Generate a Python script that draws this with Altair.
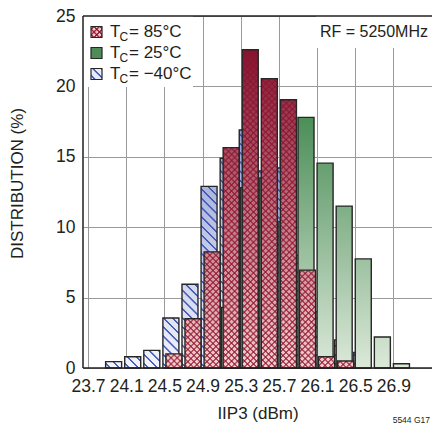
import math
import altair as alt

# ---------------- data ----------------
bin_centers = [24.0, 24.2, 24.4, 24.6, 24.8, 25.0, 25.2, 25.4, 25.6, 25.8,
               26.0, 26.2, 26.4, 26.6, 26.8, 27.0]
dist_85 = [None, None, None, 1.0, 3.5, 8.25, 15.65, 22.6, 20.55, 19.05,
           6.95, 0.8, 0.5, None, None, None]
dist_25 = [None, None, None, None, None, None, 4.3, 12.8, 13.5, 10.4,
           17.8, 14.55, 11.5, 7.75, 2.2, 0.3]
dist_m40 = [0.45, 0.8, 1.25, 3.55, 5.95, 12.9, 14.9, 16.9, 14.0, 14.2,
            8.0, 4.0, 2.0, 1.1, None, None]
x_ticks = [23.7, 24.1, 24.5, 24.9, 25.3, 25.7, 26.1, 26.5, 26.9]
y_ticks = [0, 5, 10, 15, 20, 25]
legend_labels = ["= 85°C", "= 25°C", "= \u221240°C"]
note_text = "RF = 5250MHz"
fig_id = "5544 G17"

# ---------------- layout / style ----------------
W, H = 349, 352
X_DOM = [23.7, 27.252]
Y_MAX = 25
BAR_W = 16
FONT = "Liberation Sans, Arial, sans-serif"
INK = "#231f20"
EDGE = "#262626"

RED_TOP, RED_BOT = "#740020", "#f4d0d0"
GRN_TOP, GRN_BOT = "#126924", "#dce9d9"
BLU_TOP, BLU_BOT = "#6b78c0", "#f4f4fb"
RED_LINE = (145, 18, 45)
BLU_LINE = (50, 80, 180)


def hex2rgb(h):
    h = h.lstrip("#")
    return tuple(int(h[i:i + 2], 16) for i in (0, 2, 4))


def mix(top, bot, f):
    a, b = hex2rgb(top), hex2rgb(bot)
    return "#%02x%02x%02x" % tuple(round(b[i] + (a[i] - b[i]) * f) for i in range(3))


def vgrad(v, top, bot):
    return {"gradient": "linear", "x1": 0, "y1": 0, "x2": 0, "y2": 1,
            "stops": [{"offset": 0, "color": mix(top, bot, v / Y_MAX)},
                      {"offset": 1, "color": bot}]}


def stripes(w, h, spacing, thick, rgb, alpha, direction):
    """Hatch lines at 45 degrees as a striped linear gradient (bbox units)."""
    L = (w + h) / math.sqrt(2)
    s = (w + h) / (w * w + h * h)
    if direction == "back":      # "\" lines
        x1, y1, x2, y2 = 0, 1, w * s, 1 - h * s
    else:                        # "/" lines
        x1, y1, x2, y2 = 0, 0, w * s, h * s
    on = "rgba(%d,%d,%d,%.2f)" % (rgb[0], rgb[1], rgb[2], alpha)
    off = "rgba(%d,%d,%d,0)" % rgb
    stops = [{"offset": 0, "color": off}]
    half = thick / 2 / L
    soft = 0.5 / L
    p = spacing / 2
    while p < L:
        t = p / L
        for o, c in ((t - half - soft, off), (t - half, on),
                     (t + half, on), (t + half + soft, off)):
            stops.append({"offset": min(max(o, 0), 1), "color": c})
        p += spacing
    stops.append({"offset": 1, "color": off})
    return {"gradient": "linear", "x1": x1, "y1": y1, "x2": x2, "y2": y2,
            "stops": stops}


RED_HATCH = [(4.3, 0.9, RED_LINE, 0.7, "back"), (4.3, 0.9, RED_LINE, 0.7, "fwd")]
BLU_HATCH = [(6.5, 1.0, BLU_LINE, 0.9, "back")]


def bar_records(values, top, bot, hatches):
    recs = []
    for c, v in zip(bin_centers, values):
        if v is None:
            continue
        h = v / Y_MAX * H
        r = {"bin": c, "pct": v, "base": vgrad(v, top, bot)}
        for i, hs in enumerate(hatches):
            r["h%d" % i] = stripes(BAR_W, h, *hs)
        recs.append(r)
    return recs


xenc = alt.X("bin:Q",
             scale=alt.Scale(domain=X_DOM, nice=False, zero=False),
             axis=alt.Axis(values=x_ticks, format=".1f", title="IIP3 (dBm)",
                           grid=True, domain=False, ticks=False,
                           labelFont=FONT, labelFontSize=17.5, labelColor=INK,
                           labelPadding=9, labelFlush=False,
                           titleFont=FONT, titleFontSize=17, titleColor=INK,
                           titleFontWeight="normal", titleY=45,
                           titleBaseline="middle",
                           gridColor="#9a9a9a", gridWidth=1))
yenc = alt.Y("pct:Q",
             scale=alt.Scale(domain=[0, Y_MAX], nice=False, zero=True),
             axis=alt.Axis(values=y_ticks, title="DISTRIBUTION (%)",
                           grid=True, domain=False, ticks=False,
                           labelFont=FONT, labelFontSize=17.5, labelColor=INK,
                           labelPadding=8, labelFlush=False,
                           titleFont=FONT, titleFontSize=17, titleColor=INK,
                           titleFontWeight="normal", titleX=-66, titleY=167,
                           titleAngle=270, titleAlign="center",
                           titleBaseline="middle",
                           gridColor="#9a9a9a", gridWidth=1))


def bar_layer(recs, field, x_off, stroke=False):
    kw = dict(width=BAR_W, xOffset=x_off, orient="vertical")
    if stroke:
        kw.update(stroke=EDGE, strokeWidth=1.4)
    else:
        kw.update(strokeWidth=0)
    return alt.Chart(alt.Data(values=recs)).mark_bar(**kw).encode(
        x=xenc, y=yenc,
        fill=alt.Fill(field + ":N", scale=None, legend=None))


blue = bar_records(dist_m40, BLU_TOP, BLU_BOT, BLU_HATCH)
green = bar_records(dist_25, GRN_TOP, GRN_BOT, [])
red = bar_records(dist_85, RED_TOP, RED_BOT, RED_HATCH)

layers = [
    bar_layer(blue, "base", -3),
    bar_layer(blue, "h0", -3, stroke=True),
    bar_layer(green, "base", -1.5, stroke=True),
    bar_layer(red, "base", 0),
    bar_layer(red, "h0", 0),
    bar_layer(red, "h1", 0, stroke=True),
]


def rect(x, x2, y, y2, fill, stroke=None):
    kw = dict(stroke=stroke, strokeWidth=1.2) if stroke else dict(strokeWidth=0)
    return alt.Chart(alt.Data(values=[{}])).mark_rect(**kw).encode(
        x=alt.value(x), x2=alt.value(x2), y=alt.value(y), y2=alt.value(y2),
        fill=alt.value(fill))


def txt(s, x, y, size=17, align="left", dy=0):
    return alt.Chart(alt.Data(values=[{"t": s}])).mark_text(
        align=align, baseline="middle", fontSize=size, font=FONT,
        color=INK, dy=dy).encode(x=alt.value(x), y=alt.value(y), text="t:N")


def rule(x, x2, y, y2):
    return alt.Chart(alt.Data(values=[{}])).mark_rule(
        color=INK, strokeWidth=1.5).encode(
        x=alt.value(x), x2=alt.value(x2), y=alt.value(y), y2=alt.value(y2))


# white boxes behind legend and note
layers.append(rect(0, 110, 0, 71, "white"))
layers.append(rect(233, W, 0, 32, "white"))

# legend swatches
SW = 11
rows = [16, 37, 58]
sx = 8
r0 = rows[0]
layers.append(rect(sx, sx + SW, r0 - SW / 2, r0 + SW / 2, "#f2c6c6"))
layers.append(rect(sx, sx + SW, r0 - SW / 2, r0 + SW / 2,
                   stripes(SW, SW, 4.0, 0.9, RED_LINE, 0.85, "back")))
layers.append(rect(sx, sx + SW, r0 - SW / 2, r0 + SW / 2,
                   stripes(SW, SW, 4.0, 0.9, RED_LINE, 0.85, "fwd"), stroke=EDGE))
r1 = rows[1]
layers.append(rect(sx, sx + SW, r1 - SW / 2, r1 + SW / 2, "#4f8c58", stroke=EDGE))
r2 = rows[2]
layers.append(rect(sx, sx + SW, r2 - SW / 2, r2 + SW / 2, "#e9ebf7"))
layers.append(rect(sx, sx + SW, r2 - SW / 2, r2 + SW / 2,
                   stripes(SW, SW, 6.0, 1.0, BLU_LINE, 0.9, "back"), stroke=EDGE))

for ry, lab in zip(rows, legend_labels):
    layers.append(txt("T", 27, ry, 17))
    layers.append(txt("C", 36.5, ry, 12, dy=5))
    layers.append(txt(lab, 46, ry, 17))

layers.append(txt(note_text, 345, 16, 16, align="right"))
layers.append(txt(fig_id, 347, 404, 8.5, align="right"))

# frame lines
layers.append(rule(0, 0, 0, H))
layers.append(rule(0, W, 0, 0))
layers.append(rule(0, W, H, H))

chart = alt.layer(*layers).properties(
    width=W, height=H,
    padding={"left": 83, "top": 16, "right": 0, "bottom": 57},
    autosize="none",
    background="white",
).configure_view(stroke=None)

chart.save("out.html", embed_options={"renderer": "svg", "actions": False})
